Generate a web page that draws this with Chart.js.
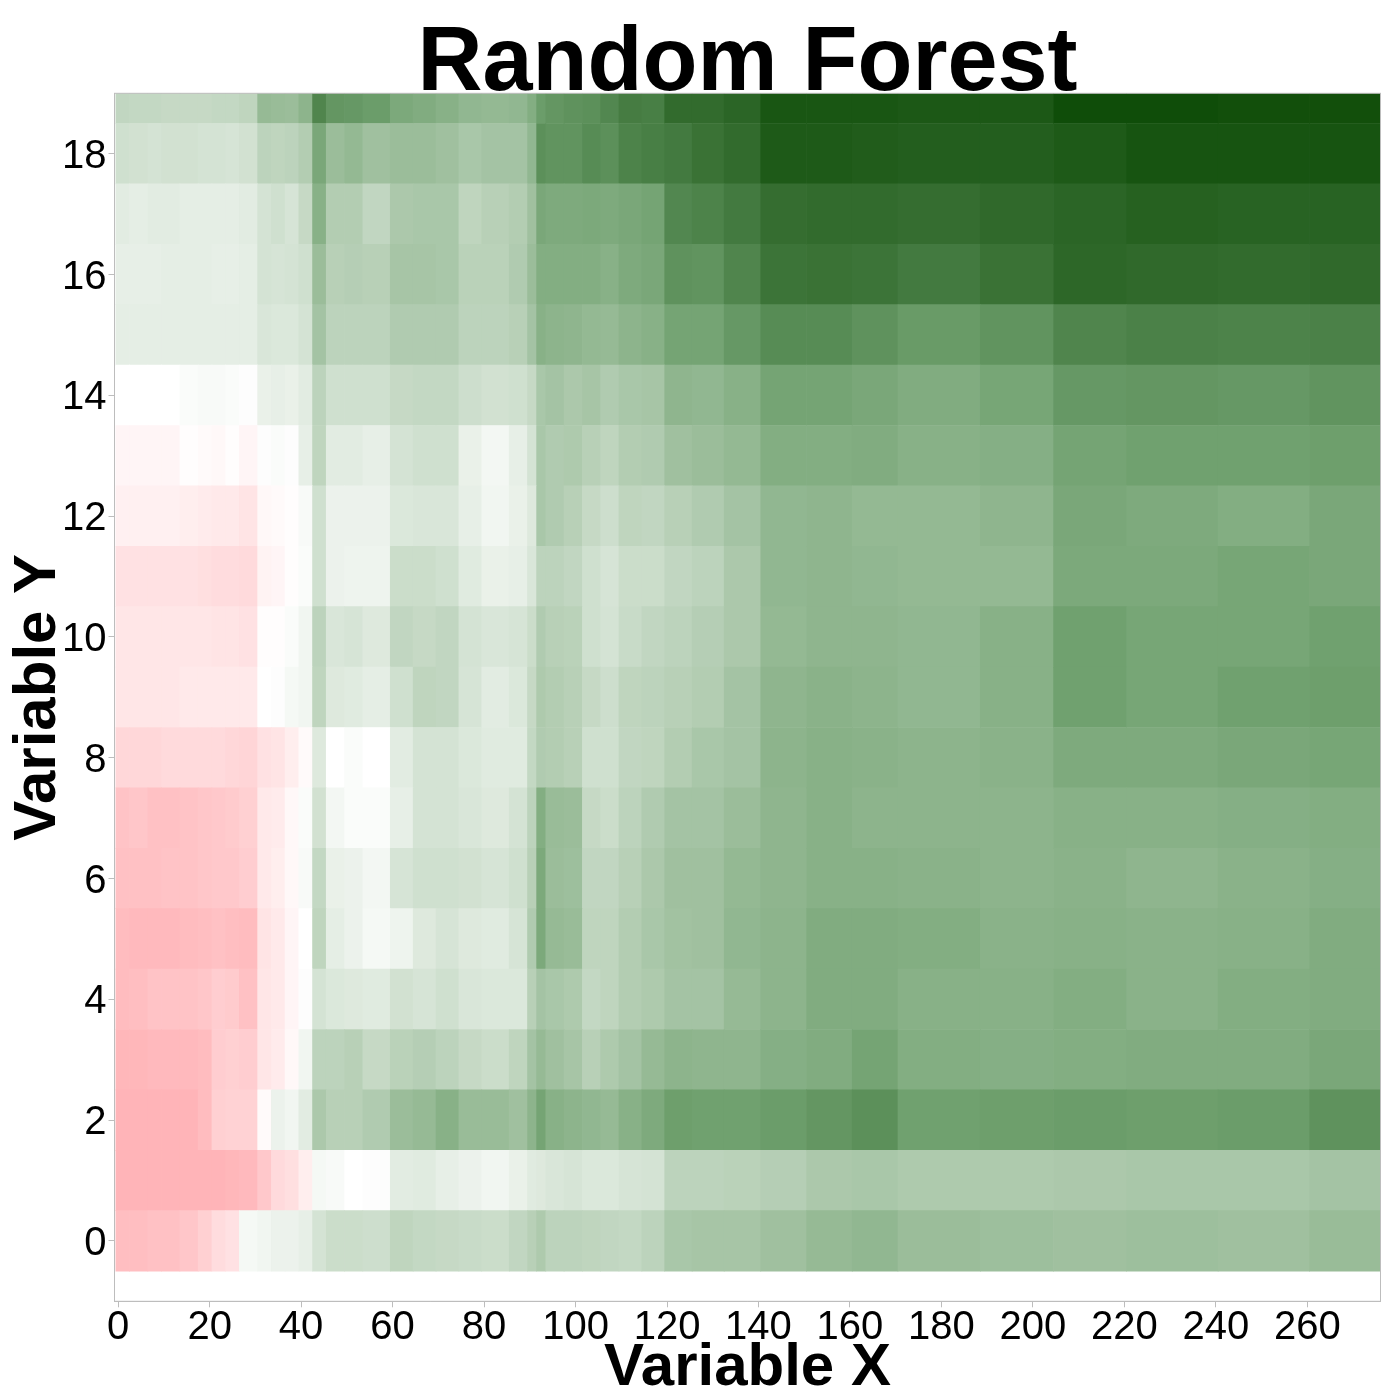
<!DOCTYPE html>
<html>
<head>
<meta charset="utf-8">
<title>Random Forest</title>
<script src="https://cdn.jsdelivr.net/npm/chart.js@4/dist/chart.umd.js"></script>
<style>
  html, body { margin: 0; background: #fff; }
  #wrap { width: 1400px; height: 1400px; }
</style>
</head>
<body>
<div id="wrap"><canvas id="heat" width="1400" height="1400"></canvas></div>
<script>
// column edges on variable X (cells are grouped where the picture shows the same shade)
var xEdges = [-0.5, 2.5, 6.5, 9.5, 13.5, 17.5, 20.5, 23.5, 26.5, 30.5, 33.5, 36.5, 39.5, 42.5, 45.5, 49.5, 53.5, 59.5, 64.5, 69.5, 74.5, 79.5, 85.5, 89.5, 91.5, 93.5, 97.5, 101.5, 105.5, 109.5, 114.5, 119.5, 125.5, 132.5, 140.5, 150.5, 160.5, 170.5, 188.5, 204.5, 220.5, 240.5, 260.5, 276];
var xTicks = [0, 20, 40, 60, 80, 100, 120, 140, 160, 180, 200, 220, 240, 260];
var yTicks = [0, 2, 4, 6, 8, 10, 12, 14, 16, 18];

// values, one list per row of variable Y
var row0 = [-26, -26, -25, -25, -23, -19, -14, -12, 4, 6, 8, 8, 10, 18, 22, 22, 21, 27, 25, 24, 23, 22, 26, 30, 34, 28, 28, 27, 26, 25, 28, 36, 37, 37, 40, 44, 46, 42, 41, 40, 41, 40, 43];
var row1 = [-30, -30, -30, -31, -31, -31, -31, -29, -28, -22, -15, -13, -7, 4, 3, 0, 1, 12, 13, 10, 8, 6, 9, 13, 14, 16, 17, 15, 15, 17, 18, 28, 28, 29, 31, 35, 36, 34, 34, 35, 36, 36, 38];
var row2 = [-30, -30, -30, -30, -30, -27, -19, -18, -18, -2, 8, 6, 12, 35, 30, 30, 33, 42, 44, 50, 43, 43, 40, 48, 58, 50, 48, 46, 44, 50, 54, 61, 60, 60, 62, 65, 68, 60, 61, 62, 61, 62, 67];
var row3 = [-29, -29, -28, -28, -28, -27, -20, -19, -20, -10, -8, -3, 6, 28, 28, 30, 24, 29, 31, 28, 24, 22, 27, 38, 44, 40, 37, 30, 34, 38, 44, 48, 47, 47, 51, 53, 58, 52, 51, 52, 53, 53, 56];
var row4 = [-27, -26, -24, -24, -24, -23, -20, -21, -25, -10, -9, -4, 1, 18, 15, 14, 13, 19, 17, 20, 16, 15, 15, 30, 38, 36, 34, 25, 27, 32, 34, 38, 38, 44, 48, 53, 53, 50, 50, 52, 49, 52, 53];
var row5 = [-27, -28, -28, -28, -27, -26, -25, -26, -27, -11, -9, -4, 0, 27, 11, 8, 4, 7, 14, 17, 14, 13, 17, 33, 55, 44, 43, 27, 27, 32, 36, 39, 40, 46, 48, 53, 53, 52, 49, 50, 49, 50, 53];
var row6 = [-25, -25, -25, -24, -24, -23, -22, -22, -20, -9, -7, -3, 3, 25, 9, 8, 5, 17, 20, 20, 19, 17, 20, 30, 55, 42, 41, 26, 26, 30, 35, 40, 40, 45, 47, 50, 50, 49, 48, 49, 47, 49, 51];
var row7 = [-24, -23, -25, -25, -24, -23, -22, -21, -19, -9, -8, -3, 2, 19, 5, 2, 2, 10, 18, 18, 16, 14, 18, 28, 52, 43, 42, 24, 22, 28, 33, 38, 38, 42, 47, 50, 48, 48, 48, 50, 50, 51, 52];
var row8 = [-16, -16, -16, -15, -15, -15, -15, -16, -17, -12, -11, -7, -2, 14, 0, 2, 0, 12, 18, 18, 15, 13, 13, 25, 33, 32, 30, 20, 20, 26, 27, 32, 36, 38, 48, 50, 49, 48, 49, 54, 54, 56, 57];
var row9 = [-10, -10, -10, -10, -9, -9, -9, -9, -9, 0, 1, 4, 6, 27, 14, 13, 11, 20, 27, 26, 17, 12, 15, 24, 34, 32, 30, 24, 21, 27, 28, 30, 32, 38, 47, 49, 48, 46, 50, 60, 57, 60, 61];
var row10 = [-10, -10, -10, -10, -10, -10, -11, -11, -12, -1, -1, 2, 6, 28, 16, 17, 14, 26, 24, 26, 18, 16, 17, 22, 33, 30, 29, 20, 18, 23, 26, 28, 31, 35, 45, 47, 47, 46, 50, 60, 57, 57, 60];
var row11 = [-12, -12, -12, -12, -12, -13, -14, -14, -15, -5, -4, -1, 2, 20, 8, 7, 7, 22, 22, 20, 13, 9, 10, 16, 28, 28, 26, 20, 17, 22, 22, 26, 28, 35, 46, 47, 46, 45, 45, 55, 55, 57, 56];
var row12 = [-6, -6, -6, -6, -7, -8, -9, -9, -11, -3, -2, -1, 3, 20, 8, 8, 8, 15, 16, 16, 10, 6, 9, 14, 36, 33, 30, 24, 21, 27, 26, 30, 33, 38, 46, 47, 45, 45, 47, 56, 54, 52, 56];
var row13 = [-4, -4, -4, -4, -1, -2, -3, -1, -4, 1, 2, 1, 10, 27, 12, 12, 10, 18, 20, 20, 9, 5, 10, 18, 36, 33, 34, 30, 27, 32, 33, 40, 42, 45, 52, 52, 53, 50, 51, 58, 60, 60, 61];
var row14 = [0, 0, 0, 0, 2, 3, 3, 2, 1, 9, 10, 9, 12, 28, 20, 20, 20, 24, 25, 25, 21, 19, 20, 24, 36, 38, 35, 37, 33, 36, 37, 47, 46, 50, 58, 58, 56, 53, 57, 64, 65, 64, 66];
var row15 = [11, 11, 11, 11, 11, 11, 11, 11, 11, 16, 15, 15, 18, 38, 28, 28, 28, 33, 33, 33, 28, 28, 30, 38, 50, 48, 47, 45, 44, 48, 50, 58, 58, 64, 70, 70, 67, 63, 66, 73, 75, 74, 75];
var row16 = [10, 10, 10, 11, 11, 11, 10, 10, 11, 18, 17, 18, 20, 42, 30, 31, 30, 37, 37, 36, 29, 29, 33, 42, 52, 52, 52, 52, 50, 54, 56, 67, 66, 73, 81, 82, 81, 78, 82, 87, 86, 85, 86];
var row17 = [12, 11, 12, 12, 11, 11, 11, 11, 12, 18, 20, 17, 24, 50, 32, 32, 26, 35, 36, 36, 27, 30, 32, 40, 56, 54, 54, 55, 54, 56, 58, 72, 74, 78, 84, 85, 85, 84, 86, 88, 90, 89, 89];
var row18 = [20, 19, 18, 19, 19, 18, 18, 17, 19, 28, 27, 28, 32, 56, 42, 45, 40, 42, 42, 40, 36, 38, 38, 46, 68, 66, 66, 70, 68, 74, 76, 78, 82, 85, 93, 93, 92, 91, 91, 93, 96, 96, 96];
var row19 = [26, 25, 25, 24, 24, 24, 25, 25, 27, 44, 43, 42, 48, 73, 65, 64, 62, 55, 53, 50, 46, 45, 46, 52, 62, 65, 67, 68, 72, 77, 76, 85, 85, 88, 95, 95, 95, 94, 94, 99, 99, 98, 98];

var rows = [row0, row1, row2, row3, row4, row5, row6, row7, row8, row9, row10, row11, row12, row13, row14, row15, row16, row17, row18, row19];

var FONT = "'Liberation Sans', Arial, sans-serif";
var GREY = '#bdbdbd';

function mix(a, b, t) {
  return 'rgb(' + a.map(function(c, i) { return Math.round(c + (b[i] - c) * t); }).join(',') + ')';
}

// pink below zero, white at zero, then two green ramps
function shade(v) {
  var white = [255, 255, 255], pink = [255, 180, 184], mid = [112, 161, 111], dark = [13, 75, 6];
  if (v < 0) return mix(white, pink, Math.min(-v / 30, 1));
  if (v <= 60) return mix(white, mid, v / 60);
  return mix(mid, dark, (v - 60) / 40);
}

var datasets = rows.map(function(values, r) {
  return {
    data: values.map(function(v, i) { return { y: r, x: [xEdges[i], xEdges[i + 1]] }; }),
    backgroundColor: values.map(shade),
    borderWidth: 0,
    barPercentage: 1,
    categoryPercentage: 1,
    grouped: false
  };
});

// thin frame round the panel
var frame = {
  id: 'frame',
  afterDatasetsDraw: function(chart) {
    var a = chart.chartArea, ctx = chart.ctx;
    ctx.save();
    ctx.strokeStyle = GREY;
    ctx.lineWidth = 1;
    ctx.strokeRect(a.left, a.top, a.right - a.left, a.bottom - a.top);
    ctx.restore();
  }
};

new Chart(document.getElementById('heat'), {
  type: 'bar',
  data: { datasets: datasets },
  plugins: [frame],
  options: {
    indexAxis: 'y',
    responsive: false,
    animation: false,
    layout: { padding: { top: 0, right: 19.5, bottom: 0, left: 0 } },
    plugins: {
      legend: { display: false },
      tooltip: { enabled: false },
      title: {
        display: true,
        text: 'Random Forest',
        fullSize: false,
        color: '#000',
        font: { family: FONT, size: 90, weight: 'bold', lineHeight: 1 },
        padding: { top: 20, bottom: -16.7 }
      }
    },
    scales: {
      x: {
        type: 'linear',
        min: -0.8,
        max: 276,
        afterFit: function(scale) { scale.height = 98.7; },
        afterBuildTicks: function(scale) { scale.ticks = xTicks.map(function(v) { return { value: v }; }); },
        grid: { drawOnChartArea: false, color: GREY, tickLength: 6, tickWidth: 1 },
        border: { color: GREY, width: 1 },
        ticks: { color: '#000', font: { family: FONT, size: 40 }, padding: -3, maxRotation: 0, autoSkip: false },
        title: {
          display: true,
          text: 'Variable X',
          color: '#000',
          font: { family: FONT, size: 60, weight: 'bold', lineHeight: 1.2 },
          padding: { top: 0, bottom: -4 }
        }
      },
      y: {
        type: 'linear',
        min: -1,
        max: 19,
        offset: false,
        afterFit: function(scale) { scale.width = 114.5; },
        afterBuildTicks: function(scale) { scale.ticks = yTicks.map(function(v) { return { value: v }; }); },
        grid: { offset: false, drawOnChartArea: false, color: GREY, tickLength: 6, tickWidth: 1 },
        border: { color: GREY, width: 1 },
        ticks: { color: '#000', font: { family: FONT, size: 40 }, padding: 2, labelOffset: 3, autoSkip: false },
        title: {
          display: true,
          text: 'Variable Y',
          color: '#000',
          font: { family: FONT, size: 60, weight: 'bold', lineHeight: 1.2 },
          padding: { top: 2, bottom: 0 }
        }
      }
    }
  }
});
</script>
</body>
</html>
